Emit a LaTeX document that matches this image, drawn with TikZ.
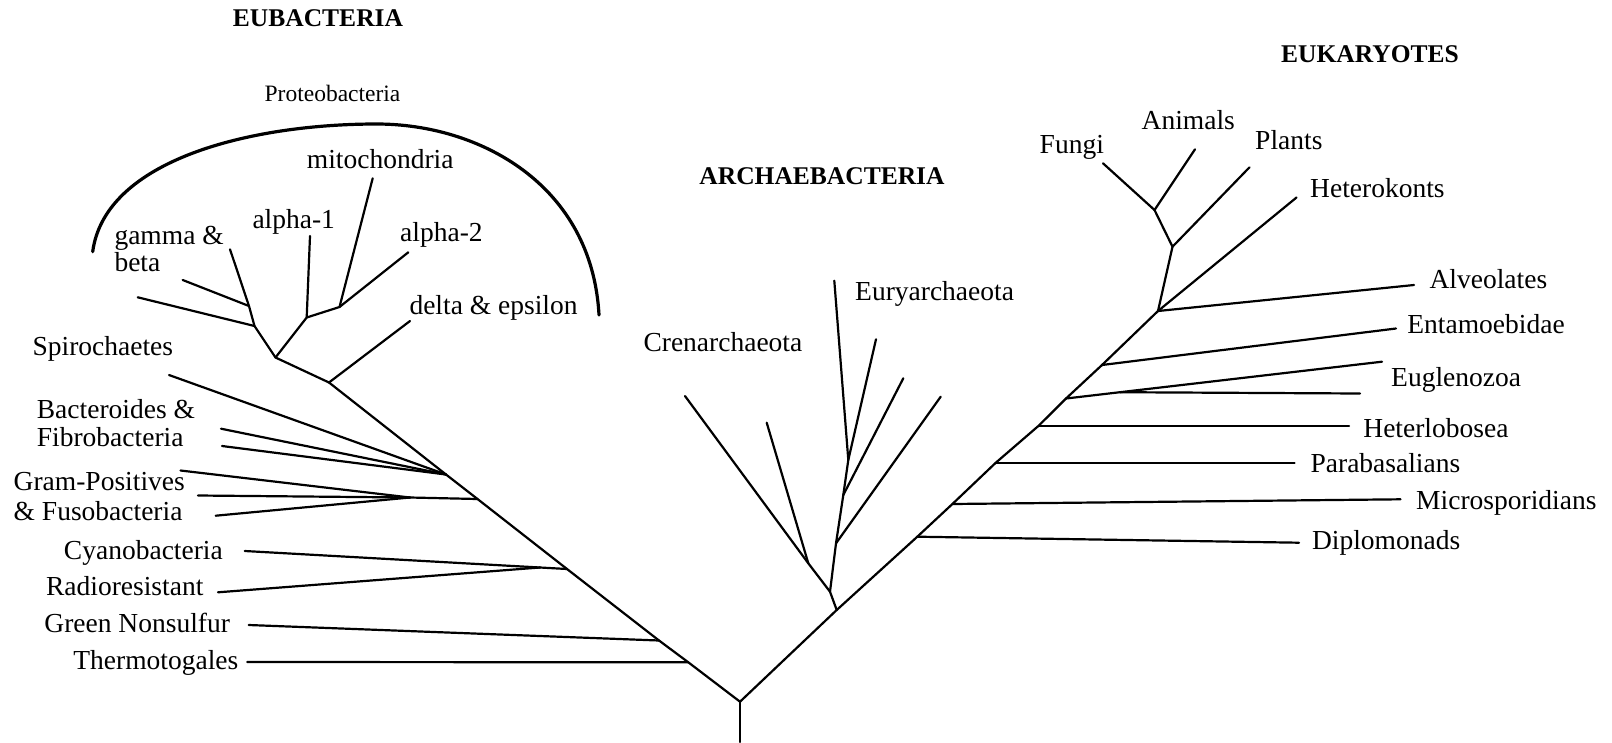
\documentclass[tikz,border=0pt]{standalone}
\usepackage{fontspec}
\setmainfont{Liberation Serif}
\begin{document}
\begin{tikzpicture}[x=1pt,y=-1pt,
  branch/.style={line width=2.2pt, line cap=round, line join=round},
  bracket/.style={line width=3.2pt, line cap=round},
  lab/.style={font=\fontsize{27.5}{28.5}\selectfont, inner sep=0pt},
  head/.style={font=\fontsize{25.5}{27}\selectfont\bfseries, inner sep=0pt},
  small/.style={font=\fontsize{23.5}{25}\selectfont, inner sep=0pt}]
\useasboundingbox (0,0) rectangle (1612,742);
\fill[white] (0,0) rectangle (1612,742);

% ---------- Eubacteria ----------
\coordinate (gbL)  at (230,249.3);
\coordinate (bL2)  at (182.7,280);
\coordinate (bL1)  at (137.7,297.3);
\coordinate (g1)   at (249,306);
\coordinate (g2)   at (254.5,326);
\coordinate (p1)   at (275.5,357.5);
\coordinate (a1L)  at (310,236);
\coordinate (a1)   at (306.7,317.5);
\coordinate (mtL)  at (372.7,178.3);
\coordinate (a2L)  at (408.3,252.3);
\coordinate (m1)   at (339.5,307);
\coordinate (dL)   at (410,321);
\coordinate (e0)   at (329,382.5);
\coordinate (spL)  at (169,375);
\coordinate (bfL1) at (221,428.7);
\coordinate (bfL2) at (222,446);
\coordinate (t1)   at (446,474.5);
\coordinate (gpL1) at (180.5,470.5);
\coordinate (gpL2) at (198,495.5);
\coordinate (gpL3) at (215.7,515.7);
\coordinate (gpJ)  at (410,497.5);
\coordinate (t2)   at (477.5,499);
\coordinate (cyL)  at (244.8,551);
\coordinate (raL)  at (218,592.3);
\coordinate (cyJ)  at (540,567.5);
\coordinate (t3)   at (567,569);
\coordinate (grL)  at (248.7,625);
\coordinate (t4)   at (659,640.5);
\coordinate (thL)  at (247.2,662);
\coordinate (t5)   at (688.3,662.3);
\coordinate (root) at (740,701.7);
\coordinate (stemEnd) at (740,742);

% ---------- Archaebacteria ----------
\coordinate (a0)   at (836.7,610);
\coordinate (a1s)  at (830,591.7);
\coordinate (c1)   at (808.3,563.3);
\coordinate (crL1) at (685,396);
\coordinate (crL2) at (766.7,422.7);
\coordinate (e3)   at (836,543.3);
\coordinate (dE)   at (940.7,396.7);
\coordinate (e2)   at (843.3,495);
\coordinate (cE)   at (903.3,378.3);
\coordinate (e1)   at (848.3,460);
\coordinate (bE)   at (876,339.3);
\coordinate (aE)   at (834.3,280.7);

% ---------- Eukaryotes ----------
\coordinate (dJ)   at (917.3,536.7);
\coordinate (mJ)   at (952.4,504);
\coordinate (pJ)   at (995.8,462.7);
\coordinate (hJ)   at (1038.7,425.7);
\coordinate (euJ)  at (1066,398.5);
\coordinate (enJ)  at (1102,365);
\coordinate (alJ)  at (1158,311);
\coordinate (plJ)  at (1172.5,246.7);
\coordinate (faJ)  at (1154.5,210);
\coordinate (fuL)  at (1103,163.3);
\coordinate (anL)  at (1195,149.3);
\coordinate (plL)  at (1249.5,167.3);
\coordinate (heL)  at (1296.5,197.5);
\coordinate (alL)  at (1414,285);
\coordinate (enL)  at (1396,328.5);
\coordinate (euS)  at (1120,392.2);
\coordinate (euL1) at (1382,361.7);
\coordinate (euL2) at (1360,393.5);
\coordinate (hlL)  at (1349,425.7);
\coordinate (pbL)  at (1294.5,462.7);
\coordinate (msL)  at (1400.5,499.3);
\coordinate (dpL)  at (1299,542.7);

% main stem and the two lower trunks
\draw[branch] (stemEnd) -- (root);
\draw[branch] (e0) -- (t1) -- (t2) -- (t3) -- (t4) -- (t5) -- (root)
  -- (a0) -- (dJ) -- (mJ) -- (pJ) -- (hJ) -- (euJ) -- (enJ) -- (alJ)
  -- (plJ) -- (faJ);

% Proteobacteria
\draw[branch] (gbL) -- (g1) -- (g2) -- (p1) -- (e0);
\draw[branch] (bL2) -- (g1);
\draw[branch] (bL1) -- (g2);
\draw[branch] (p1) -- (a1) -- (m1) -- (mtL);
\draw[branch] (a1L) -- (a1);
\draw[branch] (a2L) -- (m1);
\draw[branch] (dL) -- (e0);

% other eubacterial branches
\draw[branch] (spL) -- (t1);
\draw[branch] (bfL1) -- (t1);
\draw[branch] (bfL2) -- (t1);
\draw[branch] (gpL1) -- (gpJ);
\draw[branch] (gpL2) -- (gpJ);
\draw[branch] (gpL3) -- (gpJ);
\draw[branch] (gpJ) -- (t2);
\draw[branch] (cyL) -- (cyJ);
\draw[branch] (raL) -- (cyJ);
\draw[branch] (cyJ) -- (t3);
\draw[branch] (grL) -- (t4);
\draw[branch] (thL) -- (t5);

% archaebacterial branches
\draw[branch] (a0) -- (a1s) -- (c1) -- (crL1);
\draw[branch] (crL2) -- (c1);
\draw[branch] (a1s) -- (e3) -- (e2) -- (e1) -- (aE);
\draw[branch] (e3) -- (dE);
\draw[branch] (e2) -- (cE);
\draw[branch] (e1) -- (bE);

% eukaryotic branches
\draw[branch] (faJ) -- (fuL);
\draw[branch] (faJ) -- (anL);
\draw[branch] (plJ) -- (plL);
\draw[branch] (alJ) -- (heL);
\draw[branch] (alJ) -- (alL);
\draw[branch] (enJ) -- (enL);
\draw[branch] (euJ) -- (euS) -- (euL1);
\draw[branch] (euS) -- (euL2);
\draw[branch] (hJ) -- (hlL);
\draw[branch] (pJ) -- (pbL);
\draw[branch] (mJ) -- (msL);
\draw[branch] (dJ) -- (dpL);

% bracket over the Proteobacteria
\coordinate (arcA) at (92.7,251.7);
\coordinate (arcT) at (376.7,124);
\coordinate (arcB) at (599,315);
\draw[bracket] (arcA) .. controls (105,160) and (250,124) .. (arcT)
  .. controls (480,124) and (592,185) .. (arcB);

% group headings
\node[head, anchor=base] (hEub) at (318,26.7) {EUBACTERIA};
\node[head, anchor=base] (hArc) at (822,184) {ARCHAEBACTERIA};
\node[head, anchor=base] (hEuk) at (1370,62.7) {EUKARYOTES};
\node[small, anchor=base] (hPro) at (332.5,101.5) {Proteobacteria};

% eubacterial labels
\node[lab, anchor=north west, align=left, font=\fontsize{27.5}{27}\selectfont]
  (lGam) at (114.3,225.6) {gamma \&\\beta};
\node[lab, anchor=base west] (lA1) at (252.3,228.7) {alpha-1};
\node[lab, anchor=base west] (lMit) at (306.7,168) {mitochondria};
\node[lab, anchor=base west] (lA2) at (400,241) {alpha-2};
\node[lab, anchor=base west] (lDel) at (409.3,314) {delta \& epsilon};
\node[lab, anchor=base east] (lSpi) at (173.3,355.3) {Spirochaetes};
\node[lab, anchor=north west, align=left, font=\fontsize{27.5}{28.5}\selectfont]
  (lBac) at (36.7,399) {Bacteroides \&\\Fibrobacteria};
\node[lab, anchor=north west, align=left, font=\fontsize{27.5}{30}\selectfont]
  (lGra) at (13.5,471.6) {Gram-Positives\\\& Fusobacteria};
\node[lab, anchor=base east] (lCya) at (223,559.3) {Cyanobacteria};
\node[lab, anchor=base east] (lRad) at (203.6,595.3) {Radioresistant};
\node[lab, anchor=base east] (lGre) at (230.2,632.7) {Green Nonsulfur};
\node[lab, anchor=base east] (lThe) at (238.5,669.3) {Thermotogales};

% archaebacterial labels
\node[lab, anchor=base west] (lCre) at (643.3,351.5) {Crenarchaeota};
\node[lab, anchor=base west] (lEur) at (855,300) {Euryarchaeota};

% eukaryotic labels
\node[lab, anchor=base west] (lFun) at (1039.5,153) {Fungi};
\node[lab, anchor=base west] (lAni) at (1141.5,129.5) {Animals};
\node[lab, anchor=base west] (lPla) at (1255,149.5) {Plants};
\node[lab, anchor=base west] (lHet) at (1310,197.7) {Heterokonts};
\node[lab, anchor=base west] (lAlv) at (1429.4,288.5) {Alveolates};
\node[lab, anchor=base west] (lEnt) at (1407.2,333) {Entamoebidae};
\node[lab, anchor=base west] (lEug) at (1391,386) {Euglenozoa};
\node[lab, anchor=base west] (lHlb) at (1363.2,437) {Heterlobosea};
\node[lab, anchor=base west] (lPar) at (1310.4,472.7) {Parabasalians};
\node[lab, anchor=base west] (lMic) at (1416,509.3) {Microsporidians};
\node[lab, anchor=base west] (lDip) at (1311.8,549.3) {Diplomonads};
\end{tikzpicture}
\end{document}
